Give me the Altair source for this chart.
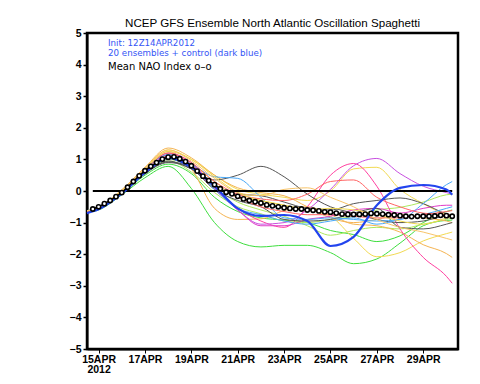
import altair as alt
import pandas as pd

# ---- data -----------------------------------------------------------------
# forecast time in days after 15APR2012 00Z
days = [-0.5, 0, 1, 2, 3, 4, 5, 6, 7, 8, 9, 10, 11, 12, 13, 14, 15, 15.25]

e01 = [-0.68, -0.60, -0.12, 0.42, 0.78, 0.08, -1.00, -1.60, -1.77, -1.72, -1.72, -1.95, -2.30, -2.15, -1.65, -1.10, -0.93, -0.92]
e02 = [-0.66, -0.57, -0.08, 0.50, 0.85, 0.55, -0.20, -0.65, -0.85, -0.92, -1.00, -1.25, -1.38, -1.60, -1.42, -1.00, -0.65, -0.60]
e03 = [-0.65, -0.55, -0.05, 0.58, 0.95, 0.60, -0.05, -0.50, -0.72, -0.95, -1.00, -0.90, -0.80, -0.60, -0.52, -0.35, -0.12, -0.10]
e04 = [-0.64, -0.54, -0.03, 0.62, 1.00, 0.72, 0.10, -0.35, -0.60, -0.80, -1.10, -1.40, -1.25, -1.15, -1.20, -1.05, -0.90, -0.85]
e05 = [-0.63, -0.52, 0.02, 0.72, 1.30, 1.00, 0.50, 0.05, -0.10, -0.20, -0.30, 0.00, 0.70, 0.75, 0.05, -0.40, -0.75, -0.80]
e06 = [-0.64, -0.54, -0.02, 0.66, 1.20, 0.85, 0.30, -0.20, -0.30, -0.45, -0.60, -0.80, -1.50, -2.08, -1.95, -1.58, -1.35, -1.30]
e07 = [-0.64, -0.53, 0.00, 0.68, 1.25, 0.70, -0.55, -0.90, -0.88, -0.62, -0.50, -0.75, -1.05, -1.10, -1.30, -1.70, -1.98, -2.10]
e08 = [-0.62, -0.51, 0.04, 0.75, 1.36, 1.05, 0.50, 0.10, -0.05, -0.15, -0.50, -0.85, -1.00, -0.90, -0.75, -0.85, -0.95, -1.00]
e09 = [-0.66, -0.56, -0.06, 0.60, 1.10, 0.75, 0.05, -0.55, -0.95, -1.15, -0.50, 0.50, 0.87, 0.15, -1.20, -2.10, -2.70, -2.92]
e10 = [-0.65, -0.55, -0.02, 0.64, 1.20, 0.90, 0.10, -0.60, -1.05, -1.00, -0.60, 0.05, 0.80, 1.03, 0.55, 0.15, -0.05, -0.10]
e11 = [-0.67, -0.57, -0.07, 0.58, 1.15, 0.85, 0.10, -0.60, -1.10, -1.10, -0.90, -0.80, -0.60, -0.55, -0.70, -0.55, -0.45, -0.45]
e12 = [-0.65, -0.55, -0.06, 0.55, 0.95, 0.70, 0.35, 0.50, 0.78, 0.45, -0.10, -0.50, -0.70, -0.90, -1.00, -0.95, -0.80, -0.80]
e13 = [-0.65, -0.55, -0.05, 0.56, 0.92, 0.75, 0.15, -0.10, -0.15, -0.35, -0.55, -0.60, -0.40, -0.30, -0.22, -0.40, -0.72, -0.76]
e14 = [-0.66, -0.56, -0.07, 0.55, 0.90, 0.70, 0.05, -0.30, -0.50, -0.90, -0.95, -0.90, -0.70, -0.55, -1.15, -1.20, -1.05, -1.00]
e15 = [-0.62, -0.52, 0.00, 0.68, 1.15, 0.85, 0.45, 0.40, -0.20, -0.85, -0.90, -0.85, -0.90, -0.95, -0.90, -0.40, 0.20, 0.30]
e16 = [-0.66, -0.56, -0.05, 0.62, 1.05, 0.80, 0.05, -0.55, -0.75, -0.95, -1.05, -0.95, -0.85, -1.05, -0.90, -0.75, -0.55, -0.50]
e17 = [-0.64, -0.54, -0.02, 0.66, 1.20, 0.90, 0.30, -0.10, -0.25, -0.30, -0.10, 0.30, 0.35, -0.20, -0.50, -0.70, -0.75, -0.78]
e18 = [-0.65, -0.55, -0.04, 0.62, 1.10, 0.80, 0.15, -0.20, -0.50, -0.65, -0.75, -0.75, -0.80, -0.85, -0.85, -0.75, -0.65, -0.62]
e19 = [-0.63, -0.53, 0.00, 0.70, 1.25, 1.00, 0.45, -0.05, -0.30, -0.45, -0.60, -0.55, -0.60, -0.75, -0.95, -1.05, -0.85, -0.80]
e20 = [-0.63, -0.52, 0.02, 0.72, 1.30, 0.95, 0.40, -0.05, -0.15, 0.05, 0.10, -0.20, -0.50, -0.90, -1.15, -1.30, -1.50, -1.55]
control = [-0.70, -0.58, -0.08, 0.58, 1.05, 0.75, 0.15, -0.55, -0.79, -0.76, -0.95, -1.74, -1.45, -0.45, 0.10, 0.19, 0.05, -0.12]

# ensemble mean, every 6 hours from 14APR 18Z
mean_nao = [-0.57, -0.50, -0.40, -0.30, -0.18, -0.05, 0.12, 0.30, 0.48, 0.64,
            0.78, 0.90, 1.01, 1.07, 1.08, 1.02, 0.93, 0.80, 0.63, 0.47,
            0.33, 0.20, 0.07, -0.04, -0.09, -0.17, -0.25, -0.30, -0.34, -0.38,
            -0.44, -0.47, -0.50, -0.53, -0.55, -0.57, -0.57, -0.60, -0.61, -0.63,
            -0.66, -0.67, -0.70, -0.73, -0.74, -0.74, -0.74, -0.73, -0.71, -0.72,
            -0.73, -0.75, -0.76, -0.78, -0.80, -0.81, -0.80, -0.80, -0.80, -0.79,
            -0.77, -0.78, -0.80]
mean_days = [(-6 + 6 * i) / 24 for i in range(len(mean_nao))]

x_tick_days = [0, 2, 4, 6, 8, 10, 12, 14]
x_tick_labels = ["15APR", "17APR", "19APR", "21APR", "23APR", "25APR", "27APR", "29APR"]
year_label = "2012"
y_ticks = [5, 4, 3, 2, 1, 0, -1, -2, -3, -4, -5]

title_text = "NCEP GFS Ensemble North Atlantic Oscillation Spaghetti"
note1 = "Init: 12Z14APR2012"
note2 = "20 ensembles + control (dark blue)"
note3 = "Mean NAO Index o\u2013o"

# ---- styles ---------------------------------------------------------------
GREEN, LIME, YELLOW, ORANGE = "#3ede3e", "#aee85e", "#f2da52", "#f5b452"
PINK, PURPLE, MAGENTA, GREY = "#ff3fa0", "#c850e0", "#e03cc8", "#555555"
LBLUE, RED, LORANGE = "#48a8f8", "#ff6464", "#f8c468"
members = [e01, e02, e03, e04, e05, e06, e07, e08, e09, e10,
           e11, e12, e13, e14, e15, e16, e17, e18, e19, e20]
member_colors = [GREEN, GREEN, LIME, LIME, YELLOW, YELLOW, ORANGE, ORANGE, PINK, PURPLE,
                 MAGENTA, GREY, GREY, GREY, LBLUE, LBLUE, RED, RED, YELLOW, LORANGE]

rows = []
for k, (vals, col) in enumerate(zip(members, member_colors)):
    for d, v in zip(days, vals):
        rows.append({"d": d, "v": v, "member": f"m{k+1:02d}", "col": col})
df_ens = pd.DataFrame(rows)
df_ctrl = pd.DataFrame({"d": days, "v": control})
df_mean = pd.DataFrame({"d": mean_days, "v": mean_nao})
df_zero = pd.DataFrame({"d": [mean_days[0]], "d2": [mean_days[-1]], "v": [0]})

AXFONT = "Liberation Sans Narrow, Liberation Sans, Arial, sans-serif"
TXTFONT = "Liberation Sans, Arial, sans-serif"
NOTEFONT = "DejaVu Sans, Verdana, sans-serif"
labels_js = "[" + ",".join(f"'{s}'" for s in x_tick_labels) + "]"
label_expr = (f"datum.value == {x_tick_days[0]} ? ['{x_tick_labels[0]}', '{year_label}'] : "
              f"{labels_js}[round(datum.value / 2)]")

XSCALE = alt.Scale(domain=[-0.5, 15.5], nice=False, zero=False)
YSCALE = alt.Scale(domain=[-5, 5], nice=False, zero=False)
XAXIS = alt.Axis(values=x_tick_days, labelExpr=label_expr, title=None, grid=False,
                 labelFont=AXFONT, labelFontSize=10.5, labelFontWeight="bold",
                 labelColor="black", tickColor="black", tickSize=4, tickWidth=1,
                 domainColor="black", domainWidth=2, labelPadding=1,
                 labelLineHeight=10.5, labelOverlap=False, labelFlush=False)
YAXIS = alt.Axis(values=y_ticks, format="d", title=None, grid=False,
                 labelFont=AXFONT, labelFontSize=10.5, labelFontWeight="bold",
                 labelColor="black", tickColor="black", tickSize=4, tickWidth=1.5,
                 domainColor="black", domainWidth=2, labelPadding=2,
                 labelOverlap=False, labelFlush=False)


def X():
    return alt.X("d:Q", scale=XSCALE, axis=XAXIS)


def Y():
    return alt.Y("v:Q", scale=YSCALE, axis=YAXIS)


ens = alt.Chart(df_ens).mark_line(strokeWidth=1, interpolate="monotone").encode(
    x=X(), y=Y(), color=alt.Color("col:N", scale=None), detail="member:N", order="d:Q")

zero = alt.Chart(df_zero).mark_rule(color="black", strokeWidth=2).encode(
    x=X(), x2="d2:Q", y=Y())

ctrl = alt.Chart(df_ctrl).mark_line(color="#2244ee", strokeWidth=2.2,
                                    interpolate="monotone").encode(x=X(), y=Y())

mean_line = alt.Chart(df_mean).mark_line(color="black", strokeWidth=1.5).encode(
    x=X(), y=Y())
mean_pts = alt.Chart(df_mean).mark_point(shape="circle", filled=True, fill="white",
                                         stroke="black", strokeWidth=1.6, size=18,
                                         opacity=1).encode(x=X(), y=Y())


def label(text, xx, yy, color, size, font, align="left"):
    return alt.Chart(pd.DataFrame({"t": [text]})).mark_text(
        align=align, baseline="alphabetic", font=font, fontSize=size, color=color
    ).encode(x=alt.value(xx), y=alt.value(yy), text="t:N")


notes = (label(note1, 21, 13, "#3355f5", 8.7, NOTEFONT)
         + label(note2, 21, 22.5, "#3355f5", 8.7, NOTEFONT)
         + label(note3, 21, 37, "black", 10, NOTEFONT)
         + label(title_text, 185.5, -6, "black", 11.6, TXTFONT, align="center"))

chart = alt.layer(ens, zero, ctrl, mean_line, mean_pts, notes).properties(
    width=371, height=316,
    autosize=alt.AutoSizeParams(type="none"),
    padding={"left": 79, "top": 25, "right": 14, "bottom": 27},
    background="white",
).configure_view(stroke="black", strokeWidth=2.5)

chart.save("out.html", embed_options={"renderer": "svg", "actions": False})
